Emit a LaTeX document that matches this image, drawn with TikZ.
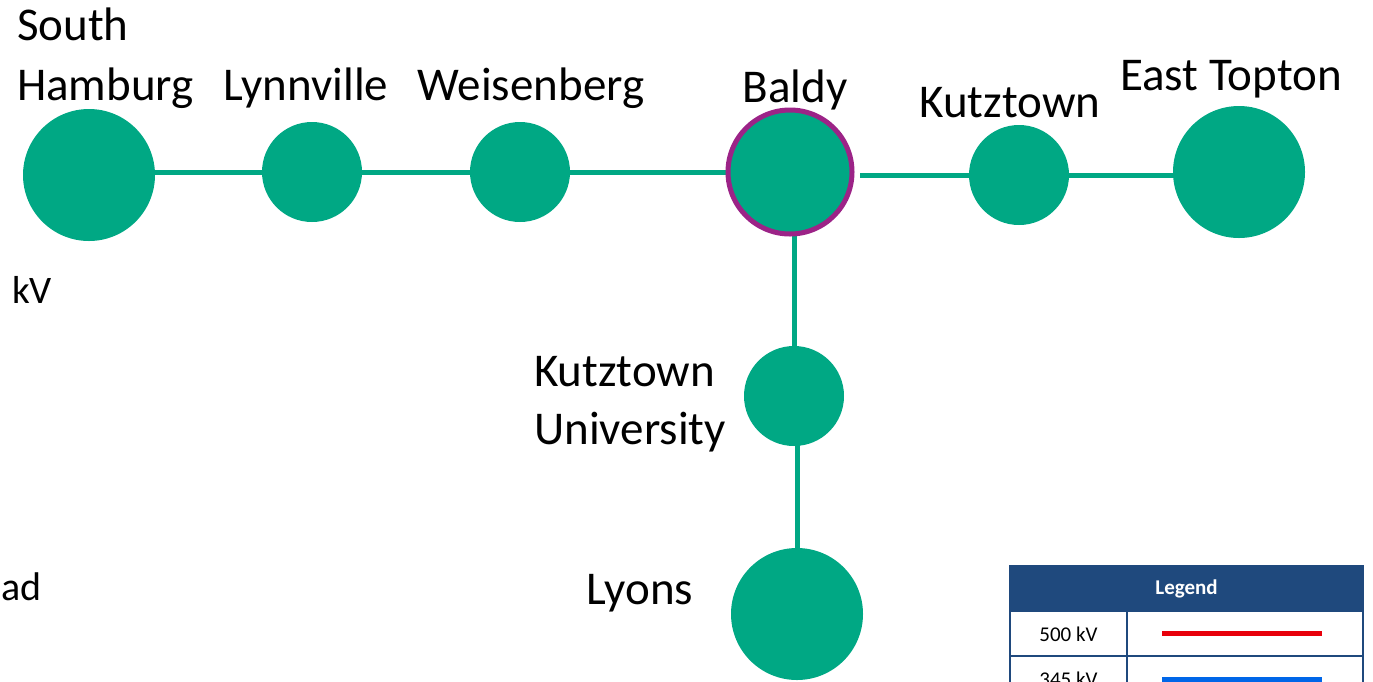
\documentclass[tikz,border=0pt]{standalone}
\usepackage{fontspec}
\setmainfont{Carlito}
\usetikzlibrary{backgrounds}
\begin{document}
\begin{tikzpicture}[x=1pt,y=-1pt,
  bus/.style={circle,fill=busgreen,inner sep=0pt},
  bigbus/.style={bus,minimum size=132pt},
  smallbus/.style={bus,minimum size=100pt},
  line/.style={draw=busgreen,line width=5pt},
  lbl/.style={font=\fontsize{47}{57}\selectfont,inner sep=0pt,anchor=base},
  lgtxt/.style={font=\fontsize{21}{25}\selectfont,inner sep=0pt},
  cell/.style={draw=legblue,line width=2pt}]
\definecolor{busgreen}{HTML}{00A884}
\definecolor{baldypurple}{HTML}{9C2387}
\definecolor{legblue}{HTML}{1F497D}
\definecolor{lgred}{HTML}{E8000B}
\definecolor{lgblue}{HTML}{0066E8}
\useasboundingbox (0,0) rectangle (1373,681);
\begin{scope}
\clip (0,0) rectangle (1373,681);
% buses
\node[bigbus] (sh) at (89,175) {};
\node[smallbus] (ly) at (312,172) {};
\node[smallbus] (we) at (520,172) {};
\node[bus,minimum size=124pt,draw=baldypurple,line width=5pt] (ba) at (790,172) {};
\node[smallbus] (ku) at (1019,175) {};
\node[bigbus] (et) at (1239,172) {};
\node[smallbus] (kun) at (794,396) {};
\node[bigbus] (lyo) at (797,614) {};
\coordinate (bae) at (860,175);
% lines
\begin{scope}[on background layer]
\draw[line] (sh.center |- ly.center) -- (ly.center);
\draw[line] (ly.center) -- (we.center);
\draw[line] (we.center) -- (ba.center);
\draw[line] (bae) -- (ku.center);
\draw[line] (ku.center) -- (et.center |- ku.center);
\draw[line] (ba.center -| kun.center) -- (kun.center);
\draw[line] (kun.center -| lyo.center) -- (lyo.center);
\end{scope}
% labels
\node[lbl,anchor=base west] (lsh1) at (17,40) {South};
\node[lbl,anchor=base west] (lsh2) at (17,100) {Hamburg};
\node[lbl] (lly) at (306,100) {Lynnville};
\node[lbl] (lwe) at (531,100) {Weisenberg};
\node[lbl] (lba) at (795,102) {Baldy};
\node[lbl] (lku) at (1010,117) {Kutztown};
\node[lbl] (let) at (1231,90) {East Topton};
\node[lbl,anchor=base west] (lkun1) at (534,386) {Kutztown};
\node[lbl,anchor=base west] (lkun2) at (534,444) {University};
\node[lbl] (llyo) at (640,604) {Lyons};
\node[lbl,anchor=base west,font=\fontsize{39}{47}\selectfont] (lkv) at (12,303) {kV};
\node[lbl,anchor=base east,font=\fontsize{40}{48}\selectfont] (lad) at (42,600) {ad};
% legend
\fill[legblue] (1010,566) rectangle (1363,611);
\node[lgtxt,font=\fontsize{21}{25}\selectfont\bfseries,text=white] (lgh) at (1186.5,589) {Legend};
\draw[cell] (1010,611) rectangle (1127,656);
\draw[cell] (1127,611) rectangle (1363,656);
\draw[cell] (1010,656) rectangle (1127,701);
\draw[cell] (1127,656) rectangle (1363,701);
\draw[cell] (1010,566) rectangle (1363,611);
\node[lgtxt] (l500) at (1068.5,634) {500 kV};
\node[lgtxt] (l345) at (1068.5,679) {345 kV};
\coordinate (r1a) at (1162,633);
\coordinate (r1b) at (1322,633);
\coordinate (r2a) at (1162,679);
\coordinate (r2b) at (1322,679);
\draw[lgred,line width=5pt] (r1a) -- (r1b);
\draw[lgblue,line width=5pt] (r2a) -- (r2b);
\end{scope}
\end{tikzpicture}
\end{document}
